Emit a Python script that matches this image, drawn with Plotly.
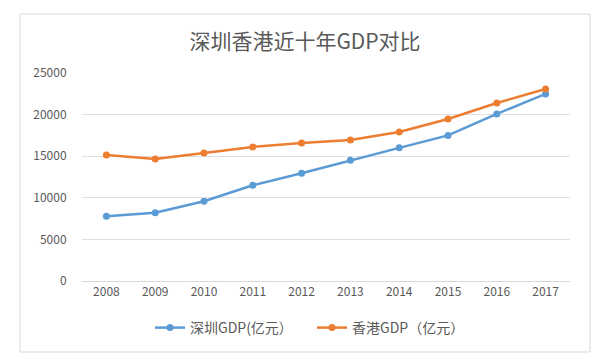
import plotly.graph_objects as go

years = ["2008", "2009", "2010", "2011", "2012", "2013", "2014", "2015", "2016", "2017"]
shenzhen = [7787, 8201, 9582, 11502, 12950, 14500, 16002, 17503, 20079, 22490]
hongkong = [15150, 14660, 15380, 16110, 16590, 16950, 17910, 19470, 21390, 23080]
y_ticks = [0, 5000, 10000, 15000, 20000, 25000]
y_tick_labels = ["0", "5000", "10000", "15000", "20000", "25000"]

FONT = "Noto Sans CJK SC"
fig = go.Figure()
fig.add_trace(go.Scatter(x=years, y=shenzhen, name="深圳GDP(亿元）", mode="lines+markers",
                         line=dict(color="#5B9BD5", width=2.5), marker=dict(size=7, color="#5B9BD5")))
fig.add_trace(go.Scatter(x=years, y=hongkong, name="香港GDP（亿元）", mode="lines+markers",
                         line=dict(color="#ED7D31", width=2.5), marker=dict(size=7, color="#ED7D31")))

fig.update_layout(
    width=600, height=359,
    margin=dict(l=82, r=30, t=73, b=78, autoexpand=False),
    paper_bgcolor="white", plot_bgcolor="white",
    font=dict(family=FONT, color="#595959", size=12),
    title=dict(text="深圳香港近十年GDP对比", x=(305-82)/488, xref="paper", xanchor="center",
               y=1 - 42/359, yanchor="middle",
               font=dict(size=21, color="#595959", family=FONT)),
    showlegend=True,
    legend=dict(orientation="h", x=(312-82)/488, xanchor="center", y=(281-328)/208, yanchor="middle",
                font=dict(size=14, color="#595959"), itemwidth=30, traceorder="normal",
                entrywidthmode="pixels", entrywidth=117),
    xaxis=dict(type="category", range=[-0.5, 9.5], showgrid=False, showline=True, automargin=False,
               linecolor="#d9d9d9", linewidth=1, ticks="", tickfont=dict(size=12, color="#595959")),
    yaxis=dict(range=[0, 25000], tickvals=y_ticks, ticktext=y_tick_labels, showgrid=True, gridcolor="#e0e0e0",
               zeroline=False, showline=False, ticks="outside", ticklen=12, tickcolor="rgba(0,0,0,0)",
               automargin=False, tickfont=dict(size=12, color="#595959")),
    shapes=[dict(type="rect", xref="paper", yref="paper",
                 x0=(20-82)/488, x1=(590-82)/488, y0=(281-352)/208, y1=(281-14)/208,
                 line=dict(color="#d9d9d9", width=1), fillcolor="rgba(0,0,0,0)", layer="below")],
)

fig.write_html("out.html", config={"displayModeBar": False},
               post_script="document.body.style.margin='0';document.body.style.overflow='hidden';")
